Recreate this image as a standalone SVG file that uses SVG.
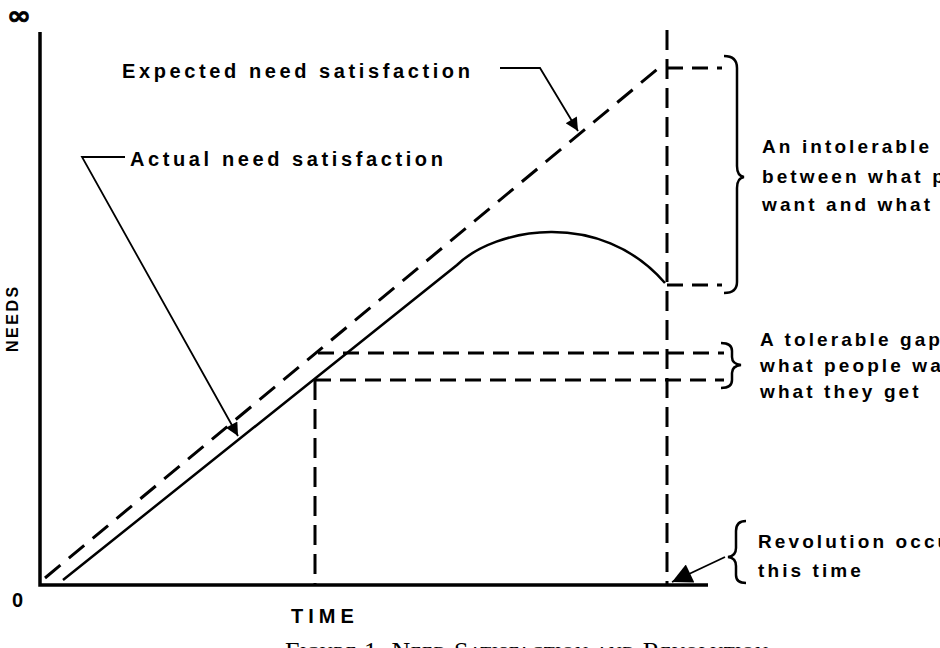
<svg xmlns="http://www.w3.org/2000/svg" width="940" height="648" viewBox="0 0 940 648">
<style>
.lbl{font-family:"Liberation Sans",Arial,sans-serif;font-weight:bold;font-size:20px;letter-spacing:3.6px;fill:#000}
.rt{font-family:"Liberation Sans",Arial,sans-serif;font-weight:bold;font-size:19px;letter-spacing:3.1px;fill:#000}
.ax{stroke:#000;stroke-width:3.5;fill:none}
.dash{stroke:#000;stroke-width:3;fill:none;stroke-dasharray:20 11}
.vdash{stroke:#000;stroke-width:3;fill:none;stroke-dasharray:20 9}
.hdash{stroke:#000;stroke-width:3;fill:none;stroke-dasharray:16 9}
.solid{stroke:#000;stroke-width:2.5;fill:none}
.lead{stroke:#000;stroke-width:1.8;fill:none}
.brace{stroke:#000;stroke-width:2.5;fill:none}
</style>
<defs>
<marker id="ah" viewBox="0 0 10 10" refX="10" refY="5" markerWidth="16" markerHeight="13" markerUnits="userSpaceOnUse" orient="auto">
<path d="M0,0 L10,5 L0,10 z" fill="#000"/>
</marker>
<marker id="ahb" viewBox="0 0 10 10" refX="10" refY="5" markerWidth="22" markerHeight="20" markerUnits="userSpaceOnUse" orient="auto">
<path d="M0,0 L10,5 L0,10 z" fill="#000"/>
</marker>
</defs>
<rect width="940" height="648" fill="#fff"/>

<g id="axes">
<path class="ax" d="M40,32 L40,585 L708,585"/>
<text transform="translate(19,24) scale(1.15,1)" x="0" y="0" text-anchor="middle" style="font-family:'DejaVu Sans',sans-serif;font-weight:bold;font-size:25px;stroke:#000;stroke-width:0.8">∞</text>
<text x="12" y="607" style="font-family:'Liberation Sans',Arial,sans-serif;font-weight:bold;font-size:20px">0</text>
<text x="291" y="623" class="lbl" style="font-size:20px;letter-spacing:5px">TIME</text>
<text transform="translate(18,352) rotate(-90)" x="0" y="0" class="lbl" style="font-size:16px;letter-spacing:2.5px">NEEDS</text>
</g>

<g id="expected-line">
<path class="dash" d="M45,578 L660,67"/>
</g>

<g id="actual-line">
<path class="solid" d="M63,580 L457,265 C495,228 600,208 665,283"/>
</g>

<g id="guides">
<path class="vdash" d="M667,30 L667,585"/>
<path class="vdash" d="M315,380 L315,585"/>
<path class="hdash" d="M318,353 L724,353"/>
<path class="hdash" d="M315,380 L724,380"/>
<path class="hdash" d="M667,68 L722,68"/>
<path class="hdash" d="M667,285 L722,285"/>
</g>

<g id="intolerable-gap">
<path class="brace" d="M724,56 Q737,56 737,68 L737,166 Q737,176 744,177 Q737,178 737,188 L737,282 Q737,293 724,293"/>
<text class="rt" x="762" y="153">An intolerable gap</text>
<text class="rt" x="762" y="183">between what people</text>
<text class="rt" x="762" y="211">want and what they get</text>
</g>

<g id="tolerable-gap">
<path class="brace" d="M721,343 Q732,343 732,351 L732,357 Q732,364 741,365 Q732,366 732,373 L732,380 Q732,388 721,388"/>
<text class="rt" x="760" y="346">A tolerable gap between</text>
<text class="rt" x="760" y="372">what people want and</text>
<text class="rt" x="760" y="398">what they get</text>
</g>

<g id="revolution">
<path class="brace" d="M746,521 Q736,521 736,531 L736,548 Q736,556 728,557 Q736,558 736,566 L736,575 Q736,583 746,583"/>
<text class="rt" x="758" y="548">Revolution occurs at</text>
<text class="rt" x="758" y="577">this time</text>
</g>

<g id="expected-label">
<text class="lbl" x="122" y="78">Expected need satisfaction</text>
</g>

<g id="actual-label">
<text class="lbl" x="130" y="166">Actual need satisfaction</text>
</g>

<g id="connectors">
<path class="lead" d="M500,68 L540,68 L578,131" marker-end="url(#ah)"/>
<path class="lead" d="M125,157 L82,157 L238,436" marker-end="url(#ah)"/>
<path class="lead" d="M725,557 L672,582" marker-end="url(#ahb)"/>
</g>

<g id="caption">
<text x="285" y="660" textLength="483" lengthAdjust="spacing" style="font-family:'Liberation Serif','Times New Roman',serif;font-size:26px;font-variant:small-caps">Figure 1. Need Satisfaction and Revolution</text>
</g>
</svg>
